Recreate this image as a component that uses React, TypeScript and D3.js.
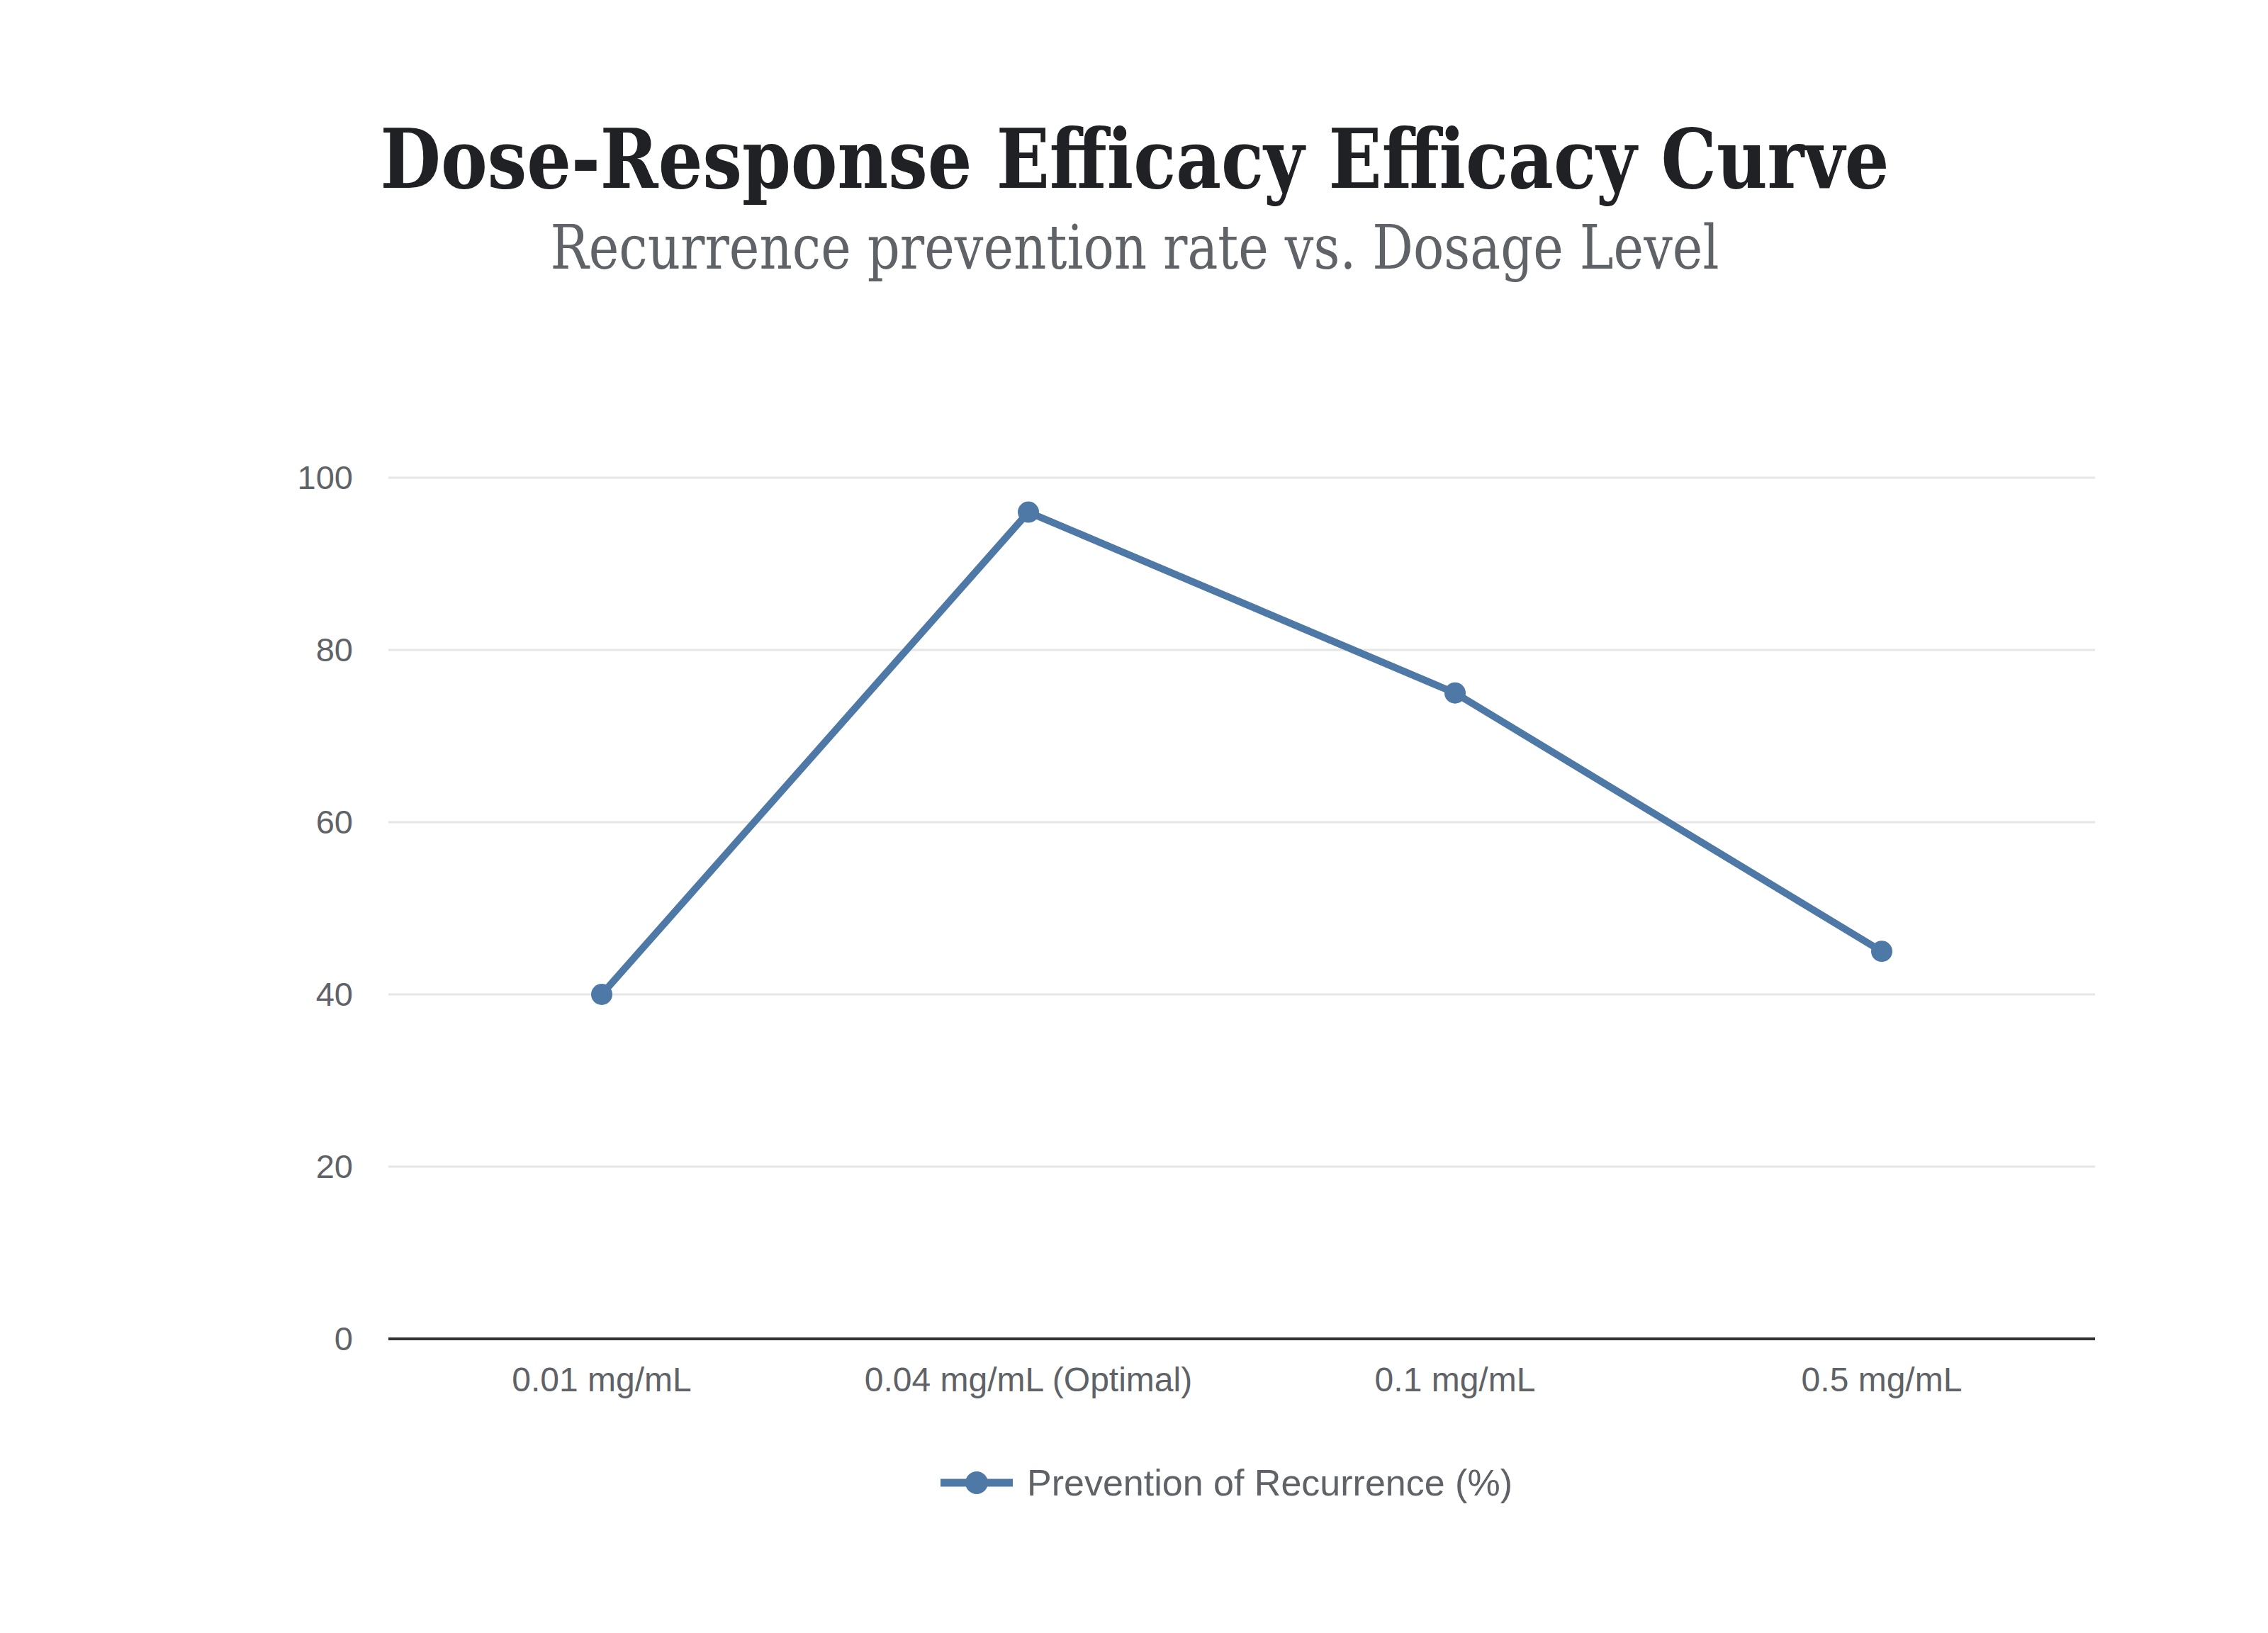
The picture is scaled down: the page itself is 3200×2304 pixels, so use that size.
import React, { useEffect, useRef } from 'react';
import * as d3 from 'd3';

const categories = ['0.01 mg/mL', '0.04 mg/mL (Optimal)', '0.1 mg/mL', '0.5 mg/mL'];
const prevention = [40, 96, 75, 45];
const yTicks = [0, 20, 40, 60, 80, 100];
const seriesName = 'Prevention of Recurrence (%)';

const App: React.FC = () => {
  const svgRef = useRef<SVGSVGElement | null>(null);

  useEffect(() => {
    const svg = d3.select(svgRef.current);
    svg.selectAll('*').remove();

    const width = 3200;
    const height = 2304;
    const margin = { left: 548, right: 244, top: 674, bottom: 415 };
    const innerW = width - margin.left - margin.right;
    const innerH = height - margin.top - margin.bottom;
    const color = '#4e78a6';
    const textGray = '#5f6368';

    svg.attr('width', width).attr('height', height);
    svg.append('rect').attr('width', width).attr('height', height).attr('fill', '#fff');

    // titles
    svg.append('text')
      .attr('x', 1601).attr('y', 265)
      .attr('text-anchor', 'middle')
      .attr('font-family', 'DejaVu Serif, serif')
      .attr('font-weight', 'bold')
      .attr('font-size', 116)
      .attr('fill', '#202124')
      .attr('textLength', 2129)
      .attr('lengthAdjust', 'spacingAndGlyphs')
      .text('Dose-Response Efficacy Efficacy Curve');

    svg.append('text')
      .attr('x', 1601).attr('y', 379)
      .attr('text-anchor', 'middle')
      .attr('font-family', 'DejaVu Serif, serif')
      .attr('font-size', 86)
      .attr('fill', textGray)
      .attr('textLength', 1649)
      .attr('lengthAdjust', 'spacingAndGlyphs')
      .text('Recurrence prevention rate vs. Dosage Level');

    const g = svg.append('g').attr('transform', `translate(${margin.left},${margin.top})`);

    const x = d3.scalePoint<string>().domain(categories).range([0, innerW]).padding(0.5);
    const y = d3.scaleLinear().domain([0, 100]).range([innerH, 0]);

    // gridlines
    g.selectAll('line.grid')
      .data(yTicks.filter((t) => t !== 0))
      .enter()
      .append('line')
      .attr('x1', 0).attr('x2', innerW)
      .attr('y1', (d) => y(d)).attr('y2', (d) => y(d))
      .attr('stroke', '#e6e6e6')
      .attr('stroke-width', 3);

    // y labels
    g.selectAll('text.ytick')
      .data(yTicks)
      .enter()
      .append('text')
      .attr('x', -50)
      .attr('y', (d) => y(d))
      .attr('dy', '0.35em')
      .attr('text-anchor', 'end')
      .attr('font-family', 'Liberation Sans, Arial, sans-serif')
      .attr('font-size', 47)
      .attr('fill', textGray)
      .text((d) => d);

    // x axis line
    g.append('line')
      .attr('x1', 0).attr('x2', innerW)
      .attr('y1', y(0)).attr('y2', y(0))
      .attr('stroke', '#333')
      .attr('stroke-width', 4);

    // x labels
    g.selectAll('text.xtick')
      .data(categories)
      .enter()
      .append('text')
      .attr('x', (d) => x(d)!)
      .attr('y', innerH + 74)
      .attr('text-anchor', 'middle')
      .attr('font-family', 'Liberation Sans, Arial, sans-serif')
      .attr('font-size', 48)
      .attr('fill', textGray)
      .text((d) => d);

    // line
    const line = d3.line<number>()
      .x((_, i) => x(categories[i])!)
      .y((d) => y(d));

    g.append('path')
      .datum(prevention)
      .attr('d', line)
      .attr('fill', 'none')
      .attr('stroke', color)
      .attr('stroke-width', 10)
      .attr('stroke-linejoin', 'round');

    g.selectAll('circle.pt')
      .data(prevention)
      .enter()
      .append('circle')
      .attr('cx', (_, i) => x(categories[i])!)
      .attr('cy', (d) => y(d))
      .attr('r', 15)
      .attr('fill', color);

    // legend
    const lg = svg.append('g').attr('transform', 'translate(1327,2092)');
    lg.append('line')
      .attr('x1', 0).attr('x2', 102)
      .attr('y1', 0).attr('y2', 0)
      .attr('stroke', color)
      .attr('stroke-width', 11);
    lg.append('circle').attr('cx', 51).attr('cy', 0).attr('r', 16).attr('fill', color);
    lg.append('text')
      .attr('x', 122)
      .attr('y', 0)
      .attr('dy', '0.35em')
      .attr('font-family', 'Liberation Sans, Arial, sans-serif')
      .attr('font-size', 52)
      .attr('fill', textGray)
      .text(seriesName);
  }, []);

  return <svg ref={svgRef} style={{ position: 'absolute', left: 0, top: 0 }}></svg>;
};

export default App;
